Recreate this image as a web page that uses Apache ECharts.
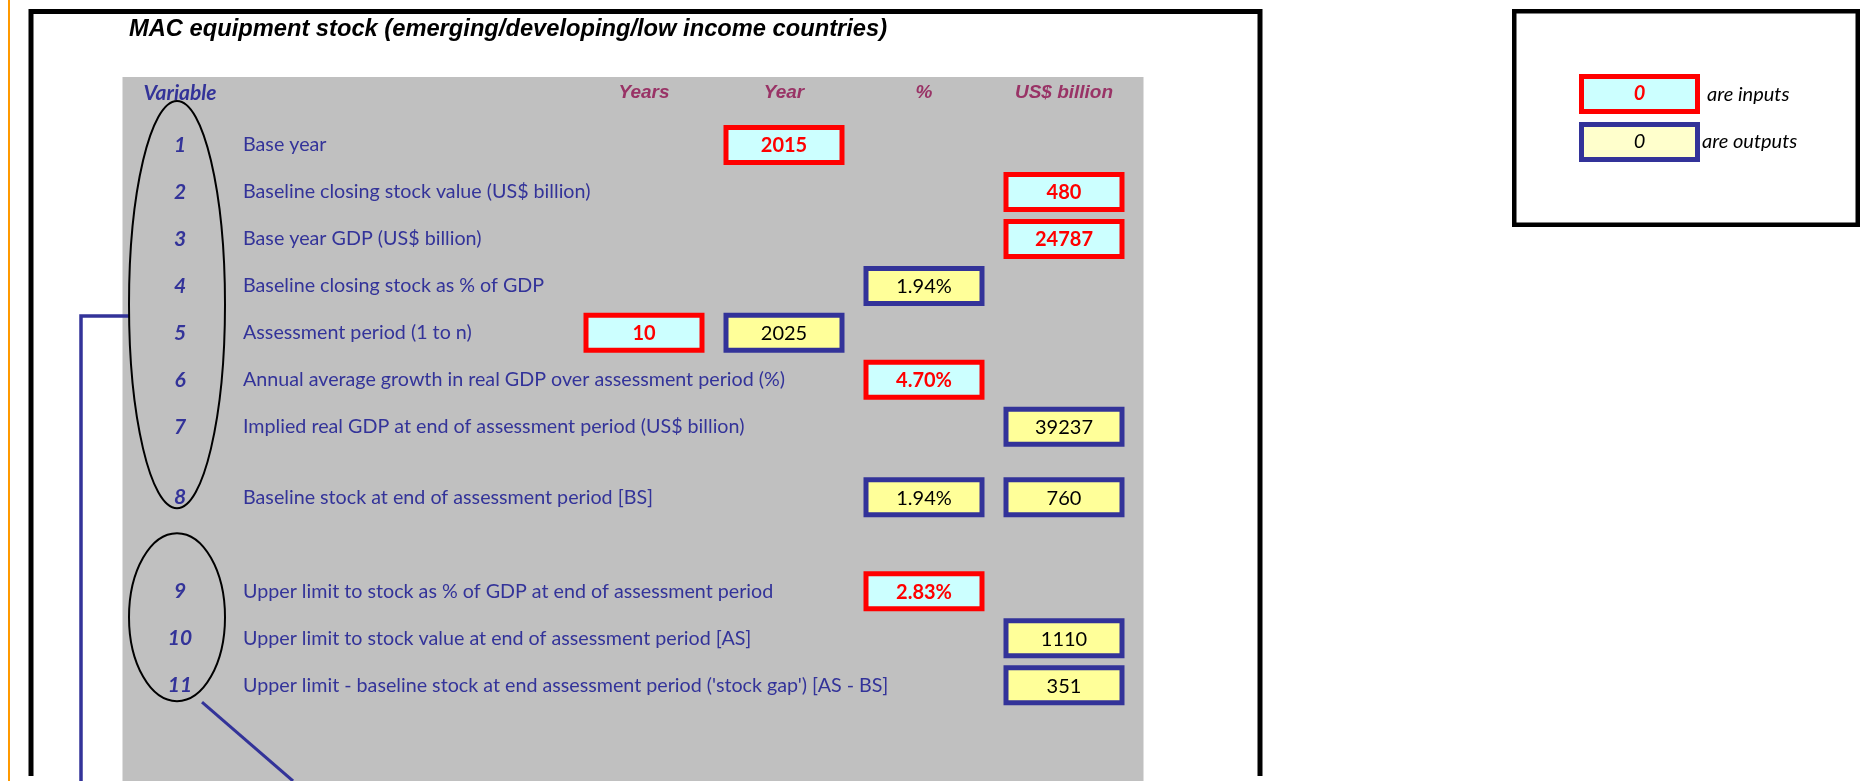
<!DOCTYPE html>
<html>
<head>
<meta charset="utf-8">
<title>MAC equipment stock</title>
<script src="https://cdn.jsdelivr.net/npm/echarts@6/dist/echarts.min.js"></script>
<style>
  html, body { margin: 0; padding: 0; background: #fff; }
  #chart { width: 1861px; height: 781px; }
</style>
</head>
<body>
<div id="chart"></div>
<script>
// 标题与表头
const title = 'MAC equipment stock (emerging/developing/low income countries)'
const varHeader = 'Variable'
const columns = ['Years', 'Year', '%', 'US$ billion']

// 变量编号和说明
const varIds = ['1', '2', '3', '4', '5', '6', '7', '8', '9', '10', '11']
const varNames = [
  'Base year',
  'Baseline closing stock value (US$ billion)',
  'Base year GDP (US$ billion)',
  'Baseline closing stock as % of GDP',
  'Assessment period (1 to n)',
  'Annual average growth in real GDP over assessment period (%)',
  'Implied real GDP at end of assessment period (US$ billion)',
  'Baseline stock at end of assessment period [BS]',
  'Upper limit to stock as % of GDP at end of assessment period',
  'Upper limit to stock value at end of assessment period [AS]',
  "Upper limit - baseline stock at end assessment period ('stock gap') [AS - BS]"
]

// 表格行（空字符串 = 空白半行）
const sheetRows = ['1', '', '2', '', '3', '', '4', '', '5', '', '6', '', '7', '', '', '8', '', '', '', '9', '', '10', '', '11']

// 输入 / 输出单元格: [变量, 列, 值]
const inputCells = [
  ['1', 'Year', 2015],
  ['2', 'US$ billion', 480],
  ['3', 'US$ billion', 24787],
  ['5', 'Years', 10],
  ['6', '%', 4.70],
  ['9', '%', 2.83]
]
const outputCells = [
  ['4', '%', 1.94],
  ['5', 'Year', 2025],
  ['7', 'US$ billion', 39237],
  ['8', '%', 1.94],
  ['8', 'US$ billion', 760],
  ['10', 'US$ billion', 1110],
  ['11', 'US$ billion', 351]
]

// 图例
const keyValue = 0
const keyTexts = ['are inputs', 'are outputs']

const bodyFont = 'Lato, "Noto Sans", sans-serif'
const headFont = '"Liberation Sans", Arial, sans-serif'
const blue = '#333399'

const rowIndex = id => sheetRows.indexOf(id)
const fmt = (col, v) => col === '%' ? v.toFixed(2) + '%' : String(v)
const toData = cells => cells.map(([id, col]) => [columns.indexOf(col), rowIndex(id)])
const descRows = sheetRows.map(id => id ? varNames[varIds.indexOf(id)] : '')

const rowStep = 23.49
const gridTop = 133.2
const gridHeight = sheetRows.length * rowStep

const chart = echarts.init(document.getElementById('chart'))

const hiddenAxis = {
  axisLine: { show: false },
  axisTick: { show: false },
  splitLine: { show: false }
}

/**
 * 单元格：带粗边框的矩形 + 居中文字
 */
const cellRenderer = (cells, fill, stroke, textColor, weight) => (params, api) => {
  const c = api.coord([api.value(0), api.value(1)])
  const [, col, v] = cells[params.dataIndex]
  return {
    type: 'group',
    children: [
      {
        type: 'rect',
        shape: { x: c[0] - 58, y: c[1] - 17.5, width: 116, height: 35 },
        style: { fill: fill, stroke: stroke, lineWidth: 5 }
      },
      {
        type: 'text',
        x: c[0], y: c[1] + 1,
        style: { text: fmt(col, v), fill: textColor, font: weight + ' 20px ' + bodyFont, align: 'center', verticalAlign: 'middle' }
      }
    ]
  }
}

const option = {
  animation: false,
  title: {
    text: title,
    left: 129,
    top: 17,
    padding: 0,
    textStyle: { fontFamily: headFont, fontSize: 23.7, fontWeight: 'bold', fontStyle: 'italic', color: '#000' }
  },
  grid: [
    { left: 122, width: 116, top: gridTop, height: gridHeight },
    { left: 574, width: 560, top: gridTop, height: gridHeight }
  ],
  xAxis: [
    {
      gridIndex: 0, type: 'category', position: 'top', data: [varHeader], ...hiddenAxis,
      axisLabel: { margin: 40, verticalAlign: 'middle', color: blue, fontFamily: bodyFont, fontSize: 21, fontWeight: 'bold', fontStyle: 'italic' }
    },
    {
      gridIndex: 1, type: 'category', position: 'top', data: columns, ...hiddenAxis,
      axisLabel: { margin: 40, verticalAlign: 'middle', color: '#993366', fontFamily: headFont, fontSize: 19, fontWeight: 'bold', fontStyle: 'italic' }
    }
  ],
  yAxis: [
    {
      gridIndex: 0, type: 'category', inverse: true, data: sheetRows, ...hiddenAxis,
      axisLabel: { inside: true, margin: 58, align: 'center', interval: 0, color: blue, fontFamily: bodyFont, fontSize: 21, fontWeight: 'bold', fontStyle: 'italic' }
    },
    {
      gridIndex: 1, type: 'category', inverse: true, data: descRows, ...hiddenAxis,
      axisLabel: { margin: 331, align: 'left', interval: 0, color: blue, fontFamily: bodyFont, fontSize: 19.7 }
    }
  ],
  series: [
    {
      name: keyTexts[0], type: 'custom', xAxisIndex: 1, yAxisIndex: 1,
      renderItem: cellRenderer(inputCells, '#ccffff', '#ff0000', '#ff0000', 'bold'),
      data: toData(inputCells)
    },
    {
      name: keyTexts[1], type: 'custom', xAxisIndex: 1, yAxisIndex: 1,
      renderItem: cellRenderer(outputCells, '#ffff99', blue, '#000', 'normal'),
      data: toData(outputCells)
    }
  ]
}

chart.setOption(option)

// 注释图形：椭圆位置从坐标轴换算
const px = id => chart.convertToPixel({ xAxisIndex: 0, yAxisIndex: 0 }, [0, rowIndex(id)])
const p1 = px('1'), p8 = px('8'), p9 = px('9'), p11 = px('11')
const ellipseAround = (pTop, pBottom, padTop, padBottom) => ({
  cx: pTop[0] - 3,
  cy: (pTop[1] - padTop + pBottom[1] + padBottom) / 2,
  rx: 48,
  ry: (pBottom[1] + padBottom - pTop[1] + padTop) / 2
})
const bigE = ellipseAround(p1, p8, 44, 11)
const smallE = ellipseAround(p9, p11, 58, 16)
const hookY = 316
const hookX = bigE.cx - bigE.rx * Math.sqrt(1 - Math.pow((hookY - bigE.cy) / bigE.ry, 2))
const diagStart = [smallE.cx + 25, smallE.cy + smallE.ry + 1]

chart.setOption({
  graphic: [
    { type: 'rect', z: -10, silent: true, shape: { x: 122.5, y: 77, width: 1021, height: 704 }, style: { fill: '#c0c0c0' } },
    { type: 'line', silent: true, shape: { x1: 9, y1: 0, x2: 9, y2: 781 }, style: { stroke: '#ff9900', lineWidth: 2 } },
    { type: 'polyline', silent: true, shape: { points: [[31, 776], [31, 11.5], [1260, 11.5], [1260, 776]] }, style: { stroke: '#000', lineWidth: 5, fill: null } },
    { type: 'ellipse', silent: true, z: 5, shape: bigE, style: { stroke: '#000', lineWidth: 2, fill: null } },
    { type: 'ellipse', silent: true, z: 5, shape: smallE, style: { stroke: '#000', lineWidth: 2, fill: null } },
    { type: 'polyline', silent: true, shape: { points: [[hookX, hookY], [81, hookY], [81, 781]] }, style: { stroke: blue, lineWidth: 3.5, fill: null } },
    { type: 'line', silent: true, shape: { x1: diagStart[0], y1: diagStart[1], x2: 293, y2: 781 }, style: { stroke: blue, lineWidth: 3 } },
    // 图例框
    { type: 'rect', silent: true, shape: { x: 1514.25, y: 11.25, width: 343.5, height: 213.5 }, style: { stroke: '#000', lineWidth: 4.5, fill: '#fff' } },
    { type: 'rect', silent: true, shape: { x: 1581.5, y: 76.5, width: 116, height: 35 }, style: { stroke: '#ff0000', lineWidth: 5, fill: '#ccffff' } },
    { type: 'rect', silent: true, shape: { x: 1581.5, y: 124.5, width: 116, height: 35 }, style: { stroke: blue, lineWidth: 5, fill: '#ffffcc' } },
    { type: 'text', silent: true, x: 1639.5, y: 94, style: { text: String(keyValue), fill: '#ff0000', font: 'italic bold 20px ' + bodyFont, align: 'center', verticalAlign: 'middle' } },
    { type: 'text', silent: true, x: 1639.5, y: 142, style: { text: String(keyValue), fill: '#000', font: 'italic 20px ' + bodyFont, align: 'center', verticalAlign: 'middle' } },
    { type: 'text', silent: true, x: 1707, y: 95, style: { text: keyTexts[0], fill: '#000', font: 'italic 20px ' + bodyFont, align: 'left', verticalAlign: 'middle' } },
    { type: 'text', silent: true, x: 1702, y: 142, style: { text: keyTexts[1], fill: '#000', font: 'italic 20px ' + bodyFont, align: 'left', verticalAlign: 'middle' } }
  ]
})
</script>
</body>
</html>
